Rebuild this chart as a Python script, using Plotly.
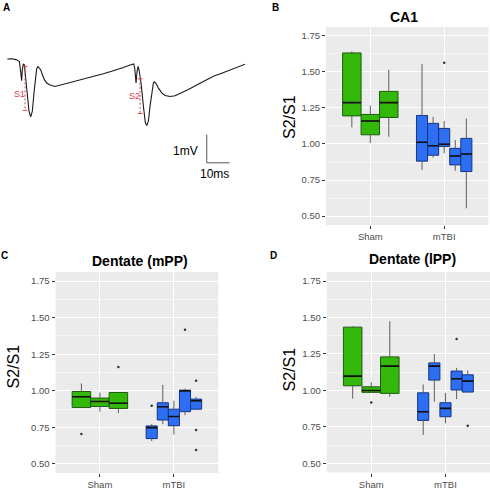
import plotly.graph_objects as go

FONT = "Liberation Sans, Arial, Helvetica, sans-serif"

# ---------------- data ----------------
groups = ["Sham", "mTBI"]
group_pos = [1, 2]

# Panel A: field potential trace (ms, mV)
trace_t = [0.15, 2.06, 3.96, 4.99, 5.43, 5.73, 6.02, 6.46, 6.75, 7.20, 7.64, 8.22, 8.96, 9.69,
           10.43, 11.16, 11.89, 12.48, 13.07, 13.66, 14.24, 14.83, 15.57, 16.45, 17.47, 18.94,
           21.15, 22.61, 24.82, 27.75, 30.69, 33.63, 36.56, 39.50, 42.44, 45.37, 48.31, 51.25,
           54.19, 55.36, 55.80, 56.24, 56.53, 56.83, 57.27, 57.71, 58.15, 59.03, 60.06, 60.94,
           61.53, 62.26, 62.99, 63.73, 64.46, 64.90, 65.64, 66.67, 68.14, 69.60, 71.81, 74.01,
           76.95, 79.88, 83.55, 87.22, 90.90, 94.57, 98.24, 101.91, 104.85]
trace_v = [0.00, 0.01, -0.02, -0.05, -0.08, -0.26, -0.55, -0.77, -0.38, -0.17, -0.20, -0.61, -1.32, -1.85,
           -2.05, -1.85, -1.20, -0.61, -0.34, -0.26, -0.32, -0.38, -0.55, -0.73, -0.85, -0.92,
           -0.97, -0.94, -0.90, -0.83, -0.77, -0.71, -0.65, -0.59, -0.52, -0.45, -0.38, -0.30,
           -0.21, -0.17, -0.17, -0.32, -0.55, -0.85, -0.44, -0.26, -0.38, -0.85, -1.67, -2.26,
           -2.36, -2.20, -1.67, -1.14, -0.85, -0.81, -0.87, -1.03, -1.20, -1.29, -1.33, -1.30,
           -1.20, -1.08, -0.92, -0.77, -0.61, -0.50, -0.38, -0.26, -0.18]

s_labels = ["S1", "S2"]
s_time = [7.93, 58.59]
s_top = [-0.26, -0.70]
s_bottom = [-1.82, -1.93]
s_label_t = [5.3, 56.0]
s_label_v = [-1.24, -1.32]

scale_t0 = 87.96
scale_v0 = -3.68
scale_ms = 10
scale_mv = 1

# Panel B: CA1
ca1_sham_lw = [1.115, 1.009, 1.050]
ca1_sham_q1 = [1.195, 1.064, 1.184]
ca1_sham_med = [1.287, 1.160, 1.287]
ca1_sham_q3 = [1.632, 1.205, 1.365]
ca1_sham_uw = [1.643, 1.266, 1.514]
ca1_tbi_lw = [0.821, 0.906, 0.936, 0.814, 0.554]
ca1_tbi_q1 = [0.881, 0.922, 0.983, 0.855, 0.809]
ca1_tbi_med = [1.012, 0.988, 0.998, 0.917, 0.931]
ca1_tbi_q3 = [1.198, 1.143, 1.108, 0.970, 1.039]
ca1_tbi_uw = [1.556, 1.188, 1.160, 1.028, 1.177]
ca1_out_group = [1]
ca1_out_box = [2]
ca1_out_val = [1.563]

# Panel C: Dentate (mPP)
mpp_sham_lw = [0.886, 0.857, 0.847]
mpp_sham_q1 = [0.886, 0.893, 0.879]
mpp_sham_med = [0.959, 0.927, 0.915]
mpp_sham_q3 = [0.995, 0.950, 0.988]
mpp_sham_uw = [1.050, 0.988, 0.988]
mpp_tbi_lw = [0.656, 0.772, 0.701, 0.833, 0.874]
mpp_tbi_q1 = [0.673, 0.800, 0.761, 0.857, 0.874]
mpp_tbi_med = [0.748, 0.891, 0.824, 1.000, 0.932]
mpp_tbi_q3 = [0.760, 0.918, 0.874, 1.004, 0.943]
mpp_tbi_uw = [0.772, 1.041, 0.932, 1.014, 0.959]
mpp_out_group = [0, 0, 1, 1, 1, 1, 1]
mpp_out_box = [0, 2, 0, 3, 4, 4, 4]
mpp_out_val = [0.704, 1.162, 0.897, 1.417, 1.068, 0.731, 0.595]

# Panel D: Dentate (lPP)
lpp_sham_lw = [0.945, 0.987, 0.957]
lpp_sham_q1 = [1.032, 0.987, 0.980]
lpp_sham_med = [1.098, 1.000, 1.167]
lpp_sham_q3 = [1.434, 1.025, 1.230]
lpp_sham_uw = [1.440, 1.057, 1.475]
lpp_tbi_lw = [0.695, 0.923, 0.774, 0.941, 0.989]
lpp_tbi_q1 = [0.795, 1.071, 0.820, 1.003, 0.989]
lpp_tbi_med = [0.854, 1.167, 0.877, 1.080, 1.064]
lpp_tbi_q3 = [0.984, 1.189, 0.916, 1.133, 1.107]
lpp_tbi_uw = [1.041, 1.251, 0.984, 1.155, 1.137]
lpp_out_group = [0, 1, 1]
lpp_out_box = [1, 3, 4]
lpp_out_val = [0.918, 1.352, 0.759]

y_ticks = [0.50, 0.75, 1.00, 1.25, 1.50, 1.75]

# ---------------- styles ----------------
GREEN_FILL = "#33b80a"
GREEN_LINE = "#1f5a12"
BLUE_FILL = "#2d6ef2"
BLUE_LINE = "#15357f"
MEDIAN_COL = "#101010"
WHISKER_COL = "#5e5e5e"
PANEL_BG = "#ebebeb"
RED = "#e0404a"

fig = go.Figure()


def positions(center, n, total=0.75):
    w = total / n
    return [center - total / 2 + w * (i + 0.5) for i in range(n)], w


def add_panel(xa, ya, stats_list, out_group, out_box, out_val):
    fills = [(GREEN_FILL, GREEN_LINE), (BLUE_FILL, BLUE_LINE)]
    all_pos = []
    for gi, stats in enumerate(stats_list):
        lw, q1, med, q3, uw = stats
        pos, w = positions(group_pos[gi], len(med))
        all_pos.append(pos)
        wx, wy = [], []
        for p, lo, a, b, hi in zip(pos, lw, q1, q3, uw):
            wx += [p, p, None, p, p, None]
            wy += [lo, a, None, b, hi, None]
        fig.add_trace(go.Scatter(x=wx, y=wy, mode="lines", line=dict(color=WHISKER_COL, width=1),
                                 xaxis=xa, yaxis=ya, showlegend=False, hoverinfo="skip"))
        fig.add_trace(go.Box(x=pos, q1=q1, median=med, q3=q3, lowerfence=q1, upperfence=q3,
                             width=w, fillcolor=fills[gi][0], line=dict(color=fills[gi][1], width=1),
                             whiskerwidth=0, boxpoints=False, xaxis=xa, yaxis=ya,
                             showlegend=False, hoverinfo="skip"))
        mx, my = [], []
        for p, m in zip(pos, med):
            mx += [p - w / 2, p + w / 2, None]
            my += [m, m, None]
        fig.add_trace(go.Scatter(x=mx, y=my, mode="lines", line=dict(color=MEDIAN_COL, width=1.6),
                                 xaxis=xa, yaxis=ya, showlegend=False, hoverinfo="skip"))
    ox = [all_pos[g][b] for g, b in zip(out_group, out_box)]
    fig.add_trace(go.Scatter(x=ox, y=out_val, mode="markers",
                             marker=dict(color="#333333", size=2.5),
                             xaxis=xa, yaxis=ya, showlegend=False, hoverinfo="skip"))


add_panel("x", "y",
          [(ca1_sham_lw, ca1_sham_q1, ca1_sham_med, ca1_sham_q3, ca1_sham_uw),
           (ca1_tbi_lw, ca1_tbi_q1, ca1_tbi_med, ca1_tbi_q3, ca1_tbi_uw)],
          ca1_out_group, ca1_out_box, ca1_out_val)
add_panel("x2", "y2",
          [(mpp_sham_lw, mpp_sham_q1, mpp_sham_med, mpp_sham_q3, mpp_sham_uw),
           (mpp_tbi_lw, mpp_tbi_q1, mpp_tbi_med, mpp_tbi_q3, mpp_tbi_uw)],
          mpp_out_group, mpp_out_box, mpp_out_val)
add_panel("x3", "y3",
          [(lpp_sham_lw, lpp_sham_q1, lpp_sham_med, lpp_sham_q3, lpp_sham_uw),
           (lpp_tbi_lw, lpp_tbi_q1, lpp_tbi_med, lpp_tbi_q3, lpp_tbi_uw)],
          lpp_out_group, lpp_out_box, lpp_out_val)

# Panel A trace
fig.add_trace(go.Scatter(x=trace_t, y=trace_v, mode="lines", line=dict(color="#1a1a1a", width=1.1),
                         xaxis="x4", yaxis="y4", showlegend=False, hoverinfo="skip"))
for t, top, bot in zip(s_time, s_top, s_bottom):
    fig.add_trace(go.Scatter(x=[t, t], y=[top, bot], mode="lines",
                             line=dict(color=RED, width=1, dash="2px,2px"),
                             xaxis="x4", yaxis="y4", showlegend=False, hoverinfo="skip"))
    fig.add_trace(go.Scatter(x=[t - 1.0, t + 1.0, None, t - 1.0, t + 1.0],
                             y=[top, top, None, bot, bot], mode="lines",
                             line=dict(color=RED, width=1),
                             xaxis="x4", yaxis="y4", showlegend=False, hoverinfo="skip"))
fig.add_trace(go.Scatter(x=[scale_t0, scale_t0, scale_t0 + scale_ms],
                         y=[scale_v0 + scale_mv, scale_v0, scale_v0], mode="lines",
                         line=dict(color="#555555", width=1),
                         xaxis="x4", yaxis="y4", showlegend=False, hoverinfo="skip"))

# ---------------- layout ----------------
def px_x(p):
    return p / 490.0


def px_y(p):
    return 1 - p / 490.0


tick_font = dict(family=FONT, size=9.5, color="#4d4d4d")


def xax(domain, anchor):
    return dict(domain=domain, anchor=anchor, range=[0.4, 2.6], tickmode="array", tickvals=group_pos,
                ticktext=groups, showgrid=True, gridcolor="white", gridwidth=1, zeroline=False,
                showline=False, ticks="outside", ticklen=3, tickcolor="#333333", tickfont=tick_font,
                fixedrange=True)


def yax(domain, anchor):
    return dict(domain=domain, anchor=anchor, range=[0.4375, 1.8125], tickmode="array", tickvals=y_ticks,
                ticktext=["%.2f" % v for v in y_ticks],
                showgrid=True, gridcolor="white", gridwidth=1, zeroline=False, showline=False,
                ticks="outside", ticklen=3, tickcolor="#333333", tickfont=tick_font,
                minor=dict(tickmode="array", tickvals=[0.625, 0.875, 1.125, 1.375, 1.625],
                           showgrid=True, gridcolor="white", gridwidth=0.5, ticks=""),
                fixedrange=True)


xB = [px_x(326), px_x(488.5)]
yB = [px_y(226), px_y(27)]
xC = [px_x(55.5), px_x(218.3)]
yC = [px_y(475), px_y(273)]
xD = [px_x(326.7), 1.0]
yD = [px_y(474.5), px_y(273)]

shapes = []
for xa in ["x", "x2", "x3"]:
    ya = xa.replace("x", "y")
    shapes.append(dict(type="rect", xref=xa + " domain", yref=ya + " domain", x0=0, x1=1, y0=0, y1=1,
                       fillcolor=PANEL_BG, line=dict(width=0), layer="below"))

annotations = []


def ann(text, x, y, size, bold=False, color="black", angle=0, xref="paper", yref="paper", xanchor="center"):
    annotations.append(dict(text="<b>%s</b>" % text if bold else text, x=x, y=y, xref=xref, yref=yref,
                            showarrow=False, textangle=angle, xanchor=xanchor, yanchor="middle",
                            font=dict(family=FONT, size=size, color=color)))


ann("A", px_x(6.5), px_y(8), 10, bold=True)
ann("B", px_x(275), px_y(7.5), 10, bold=True)
ann("C", px_x(4.5), px_y(256.5), 10, bold=True)
ann("D", px_x(273.5), px_y(257), 10, bold=True)
ann("CA1", px_x(404), px_y(17), 14, bold=True)
ann("Dentate (mPP)", px_x(139.7), px_y(262.5), 14, bold=True)
ann("Dentate (lPP)", px_x(412.5), px_y(260.5), 14, bold=True)
ann("S2/S1", px_x(289), px_y(117.5), 16, angle=-90)
ann("S2/S1", px_x(13), px_y(368), 16, angle=-90)
ann("S2/S1", px_x(289), px_y(371), 16, angle=-90)
for lab, t, v in zip(s_labels, s_label_t, s_label_v):
    ann(lab, t, v, 9, color=RED, xref="x4", yref="y4")
ann("1mV", scale_t0 - 3.0, scale_v0 + 0.42, 12, xref="x4", yref="y4", xanchor="right")
ann("10ms", scale_t0 + scale_ms / 2 - 1.5, scale_v0 - 0.41, 12, xref="x4", yref="y4")

fig.update_layout(
    width=490, height=490, autosize=False,
    margin=dict(l=0, r=0, t=0, b=0, pad=0),
    paper_bgcolor="white", plot_bgcolor="white",
    boxmode="overlay",
    xaxis=xax(xB, "y"), yaxis=yax(yB, "x"),
    xaxis2=xax(xC, "y2"), yaxis2=yax(yC, "x2"),
    xaxis3=xax(xD, "y3"), yaxis3=yax(yD, "x3"),
    xaxis4=dict(domain=[0, 0.5], anchor="y4", range=[-3.08, 104.8], visible=False, fixedrange=True),
    yaxis4=dict(domain=[px_y(200), 1.0], anchor="x4", range=[-4.97, 2.095], visible=False, fixedrange=True),
    shapes=shapes,
    annotations=annotations,
    showlegend=False,
    hovermode=False,
)

fig.write_html("out.html", config={"displayModeBar": False, "staticPlot": True},
               post_script="document.body.style.margin='0';document.body.style.overflow='hidden';")
